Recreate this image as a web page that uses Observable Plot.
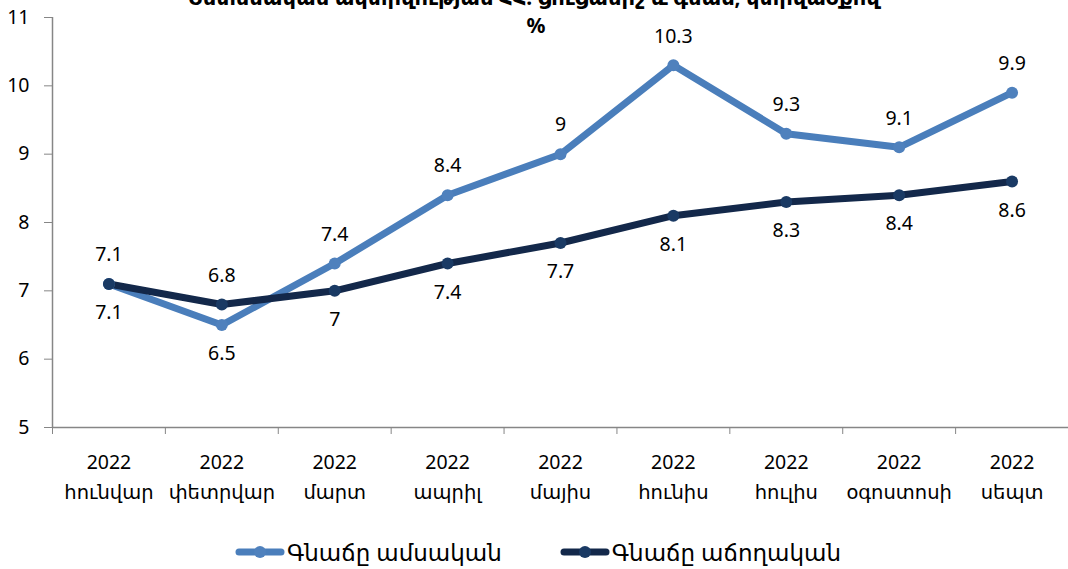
<!DOCTYPE html>
<html>
<head>
<meta charset="utf-8">
<script src="https://cdn.jsdelivr.net/npm/d3@7"></script>
<script src="https://cdn.jsdelivr.net/npm/@observablehq/plot@0.6"></script>
<style>
  html, body { margin: 0; padding: 0; background: #fff; }
  body { width: 1068px; height: 569px; position: relative; overflow: hidden;
         font-family: "Noto Sans", "DejaVu Sans", sans-serif; }
  #title { position: absolute; left: 0; width: 1068px; top: -17px; text-align: center;
           font-weight: bold; font-size: 21px; color: #000; white-space: nowrap; }
  #unit { position: absolute; left: 0; width: 1068px; top: 11px; text-align: center;
          font-weight: bold; font-size: 21px; color: #000; padding-left: 2px; }
  #chart { position: absolute; left: 0; top: 0; }
  #legend { position: absolute; left: 0; top: 536px; width: 1068px; display: flex;
            justify-content: center; gap: 58px; font-size: 23px; color: #000; padding-left: 8px; box-sizing: border-box; }
  .item { display: flex; align-items: center; }
  .item svg { margin-right: 2px; }
</style>
</head>
<body>
<div id="title">Տնտեսական ակտիվության ՀՀ. ցուցանիշ և գնաճ, կտրվածքով</div>
<div id="unit">%</div>
<div id="chart"></div>
<div id="legend"></div>
<script>
const years = ["2022","2022","2022","2022","2022","2022","2022","2022","2022"];
const months = ["հունվար","փետրվար","մարտ","ապրիլ","մայիս","հունիս","հուլիս","օգոստոսի","սեպտ"];
const seriesNames = ["Գնաճը ամսական", "Գնաճը աճողական"];
const monthly = [7.1, 6.5, 7.4, 8.4, 9.0, 10.3, 9.3, 9.1, 9.9];
const cumulative = [7.1, 6.8, 7.0, 7.4, 7.7, 8.1, 8.3, 8.4, 8.6];
// label placement: 1 = above, -1 = below
const monthlyPos = [1, -1, 1, 1, 1, 1, 1, 1, 1];
const cumulativePos = [-1, 1, -1, -1, -1, -1, -1, -1, -1];
const yTicks = [5, 6, 7, 8, 9, 10, 11];

const colors = ["#4a7ebb", "#13284a"];
const dotColors = ["#4f81bd", "#1a3a64"];

const rows = [];
monthly.forEach((v, i) => rows.push({i, v, s: seriesNames[0], pos: monthlyPos[i]}));
cumulative.forEach((v, i) => rows.push({i, v, s: seriesNames[1], pos: cumulativePos[i]}));

const idx = d3.range(months.length);
const bounds = d3.range(months.length + 1).map(k => k - 0.5);
const fmt = v => String(+v.toFixed(1));

const plot = Plot.plot({
  width: 1068,
  height: 470,
  marginTop: 17,
  marginBottom: 43,
  marginLeft: 52,
  marginRight: 0,
  style: {fontFamily: '"Noto Sans", "DejaVu Sans", sans-serif', background: "transparent", overflow: "visible"},
  x: {type: "linear", domain: [-0.5, months.length - 0.5]},
  y: {domain: [5, 11]},
  color: {domain: seriesNames, range: colors},
  marks: [
    Plot.axisY({ticks: yTicks, tickSize: 8, tickPadding: 15, fontSize: 19.5, stroke: "#868686", strokeOpacity: 1, color: "#000", tickFormat: d => String(d), label: null}),
    Plot.ruleX([-0.5], {stroke: "#868686", strokeWidth: 1.5}),
    Plot.ruleY([5], {stroke: "#868686", strokeWidth: 1.5}),
    Plot.axisX({ticks: bounds, tickSize: 7, tickFormat: () => "", stroke: "#868686", strokeOpacity: 1, label: null}),
    Plot.axisX({ticks: idx, tickSize: 0, tickPadding: 21, fontSize: 19.5, lineHeight: 1.5, color: "#000",
      tickFormat: i => years[i] + "\n" + months[i], label: null}),
    Plot.line(rows, {x: "i", y: "v", z: "s", stroke: "s", strokeWidth: 7, strokeLinejoin: "round", strokeLinecap: "round"}),
    Plot.dot(rows, {x: "i", y: "v", r: 6, fill: d => d.s === seriesNames[0] ? dotColors[0] : dotColors[1], stroke: "none"}),
    Plot.text(rows.filter(d => d.pos > 0), {x: "i", y: "v", text: d => fmt(d.v), dy: -29, fontSize: 19.5, fill: "#000"}),
    Plot.text(rows.filter(d => d.pos < 0), {x: "i", y: "v", text: d => fmt(d.v), dy: 29, fontSize: 19.5, fill: "#000"})
  ]
});
document.getElementById("chart").appendChild(plot);

const legend = document.getElementById("legend");
seriesNames.forEach((name, k) => {
  const item = document.createElement("div");
  item.className = "item";
  item.innerHTML = `<svg width="50" height="20"><line x1="4" y1="10" x2="46" y2="10" stroke="${colors[k]}" stroke-width="7" stroke-linecap="round"/><circle cx="25" cy="10" r="6" fill="${dotColors[k]}"/></svg><span>${name}</span>`;
  legend.appendChild(item);
});
</script>
</body>
</html>
